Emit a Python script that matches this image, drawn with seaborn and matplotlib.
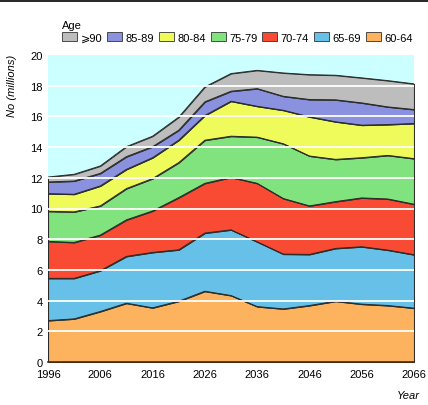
import numpy as np
import pandas as pd
import matplotlib
matplotlib.use("Agg")
import matplotlib.pyplot as plt
from matplotlib.patches import Patch
from matplotlib.lines import Line2D
import seaborn as sns

years = [1996, 2001, 2006, 2011, 2016, 2021, 2026, 2031, 2036, 2041, 2046, 2051, 2056, 2061, 2066]
age_groups = ["60-64", "65-69", "70-74", "75-79", "80-84", "85-89", "\u2a7e90"]
# cumulative tops (millions)
top_60_64 = [2.70, 2.81, 3.29, 3.83, 3.53, 3.96, 4.61, 4.33, 3.61, 3.46, 3.68, 3.96, 3.77, 3.68, 3.51]
top_65_69 = [5.45, 5.45, 5.95, 6.88, 7.14, 7.31, 8.40, 8.61, 7.83, 7.03, 7.01, 7.40, 7.51, 7.29, 6.99]
top_70_74 = [7.86, 7.79, 8.27, 9.26, 9.84, 10.71, 11.64, 12.03, 11.64, 10.65, 10.17, 10.45, 10.69, 10.62, 10.28]
top_75_79 = [9.82, 9.78, 10.17, 11.30, 11.95, 12.99, 14.45, 14.71, 14.65, 14.22, 13.42, 13.20, 13.31, 13.46, 13.25]
top_80_84 = [10.97, 10.93, 11.47, 12.55, 13.31, 14.45, 16.06, 16.99, 16.66, 16.40, 15.97, 15.65, 15.43, 15.47, 15.54]
top_85_89 = [11.73, 11.79, 12.29, 13.38, 14.03, 15.10, 16.95, 17.64, 17.81, 17.31, 17.10, 17.08, 16.88, 16.62, 16.45]
top_90_plus = [12.05, 12.23, 12.77, 14.03, 14.71, 15.95, 17.92, 18.79, 19.00, 18.83, 18.72, 18.68, 18.51, 18.33, 18.12]
colors = ["#FDB35D", "#66C0E8", "#F94B33", "#80E37E", "#EEFB5A", "#8A92E0", "#BDBDBD"]
x_tick_labels = [1996, 2006, 2016, 2026, 2036, 2046, 2056, 2066]
y_ticks = list(range(0, 21, 2))

tops = [top_60_64, top_65_69, top_70_74, top_75_79, top_80_84, top_85_89, top_90_plus]
cum = np.array(tops)
layers = np.diff(np.vstack([np.zeros(len(years)), cum]), axis=0)
df = pd.DataFrame(layers.T, columns=age_groups)
df["Year"] = years

sns.set_style("white")
plt.rcParams["font.family"] = ["Liberation Sans", "DejaVu Sans"]
plt.rcParams["text.color"] = "black"
plt.rcParams["xtick.labelcolor"] = "black"
plt.rcParams["ytick.labelcolor"] = "black"

FS = 8

fig = plt.figure(figsize=(4.28, 4.06), dpi=100)
ax = fig.add_axes([48/428, 1-363/406, (414-48)/428, (363-56)/406])
ax.set_facecolor("#CCFFFF")

ax.stackplot(df["Year"], *[df[g] for g in age_groups], colors=colors,
             edgecolor="#2a2a2a", linewidth=0.7, zorder=2)
# boundary lines
long = pd.DataFrame({"Year": np.tile(years, len(age_groups)),
                     "top": cum.ravel(),
                     "grp": np.repeat(age_groups, len(years))})
sns.lineplot(data=long, x="Year", y="top", units="grp", estimator=None,
             color="#2a2a2a", linewidth=0.7, ax=ax, zorder=2.5, legend=False)
ax.vlines([years[0], years[-1]], 0, [top_90_plus[0], top_90_plus[-1]],
          color="#2a2a2a", linewidth=0.8, zorder=2.6)

for yv in y_ticks[1:-1]:
    ax.axhline(yv, color="white", linewidth=1.3, zorder=3)

ax.set_xlim(1996, 2066)
ax.set_ylim(0, 20)
ax.set_xticks(x_tick_labels)
ax.set_xticks(years, minor=True)
ax.set_yticks(y_ticks)
ax.tick_params(axis="x", which="both", direction="in", length=7, width=1.2,
               color="white", labelsize=FS, pad=5)
ax.tick_params(axis="y", length=0, labelsize=FS, pad=4)
for t in ax.xaxis.get_major_ticks() + ax.xaxis.get_minor_ticks():
    t.tick1line.set_zorder(4)
ax.set_axisbelow(False)
for s in ["top", "right", "left"]:
    ax.spines[s].set_visible(False)
ax.spines["bottom"].set_color("#4a2a10")
ax.spines["bottom"].set_linewidth(1.2)
ax.spines["bottom"].set_zorder(5)
ax.set_xlabel("")
ax.set_ylabel("")

fig.text(12/428, 1-86/406, "No (millions)", rotation=90, style="italic",
         fontsize=FS, ha="center", va="center")
fig.text(420/428, 1-396/406, "Year", style="italic", fontsize=FS, ha="right", va="center")

handles = [Patch(facecolor=c, edgecolor="#333333", linewidth=0.6) for c in colors][::-1]
labels = age_groups[::-1]
leg = fig.legend(handles, labels, loc="upper left", bbox_to_anchor=(60/428, 1-19/406),
                 ncol=7, frameon=False, fontsize=FS, title="Age", title_fontsize=FS,
                 alignment="left", handlelength=1.35, handleheight=0.8,
                 handletextpad=0.3, columnspacing=0.45, borderpad=0.2, labelspacing=0.2,
                 borderaxespad=0)

fig.add_artist(Line2D([0, 1], [1-2/406, 1-2/406], transform=fig.transFigure,
                      color="black", linewidth=1.2))

fig.savefig("out.png", dpi=100)
